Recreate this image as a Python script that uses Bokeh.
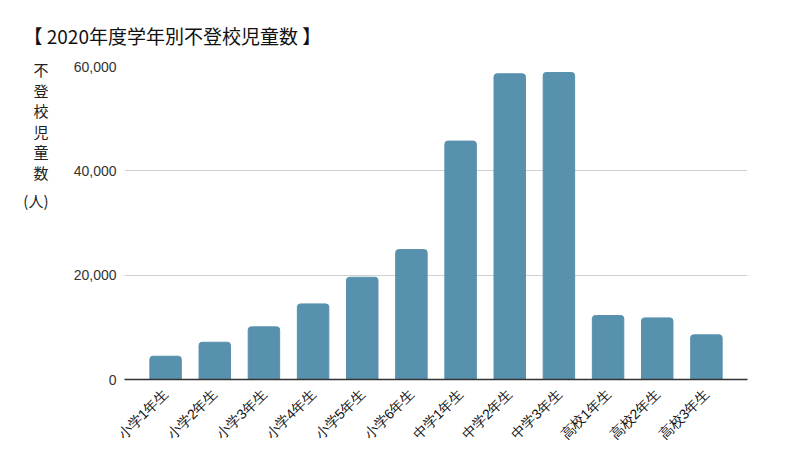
from bokeh.plotting import figure
from bokeh.models import (FactorRange, Range1d, FixedTicker, NumeralTickFormatter, Title,
                          LinearAxis)
from bokeh.embed import file_html
from bokeh.resources import INLINE
import math

categories = ["小学1年生", "小学2年生", "小学3年生", "小学4年生", "小学5年生", "小学6年生",
              "中学1年生", "中学2年生", "中学3年生", "高校1年生", "高校2年生", "高校3年生"]
counts = [4460, 7140, 10090, 14490, 19600, 24900, 45700, 58600, 58850, 12260, 11810, 8560]
y_ticks = [0, 20000, 40000, 60000]
title_text = "【 2020年度学年別不登校児童数 】"
ylabel_chars = ["不", "登", "校", "児", "童", "数", "(人)"]

W, H = 784, 460
BL, BR, BT, BB = 124, 37, 66, 81
YMAX = 60000
PAD = 0.336

p = figure(width=W, height=H, output_backend="svg", toolbar_location=None,
           x_range=FactorRange(factors=categories, range_padding=PAD, range_padding_units="absolute"),
           y_range=Range1d(0, YMAX),
           min_border_left=BL, min_border_right=BR, min_border_top=BT, min_border_bottom=BB)
p.outline_line_color = None

p.add_layout(Title(text=title_text, align="left", offset=-(BL - 23), standoff=35,
                   text_font="Noto Sans CJK JP", text_font_size="19px",
                   text_font_style="normal", text_color="#111111"), "above")

p.vbar(x=categories, top=counts, width=0.64, bottom=0,
       fill_color="#5891ad", line_color="#5891ad", line_width=1,
       border_radius=(3, 3, 0, 0))

p.xgrid.grid_line_color = None
p.ygrid.grid_line_color = "#d0d0d0"
p.ygrid.grid_line_width = 1
p.ygrid.ticker = FixedTicker(ticks=y_ticks)

p.yaxis.ticker = FixedTicker(ticks=y_ticks)
p.yaxis.formatter = NumeralTickFormatter(format="0,0")
p.yaxis.axis_line_color = None
p.yaxis.major_tick_line_color = None
p.yaxis.minor_tick_line_color = None
p.yaxis.major_tick_out = 0
p.yaxis.major_tick_in = 0
p.yaxis.major_label_standoff = 8
p.yaxis.major_label_text_font = "Liberation Sans"
p.yaxis.major_label_text_font_size = "14px"
p.yaxis.major_label_text_color = "#333333"

# stacked vertical axis title: an outer left axis whose tick labels are the characters
frame_h = H - BT - BB
def val_at(px_from_top):
    return int(round((H - BB - px_from_top) / frame_h * YMAX))
char_px = [69 + i * 20.6 for i in range(6)] + [200]
char_vals = [val_at(v) for v in char_px]
ylab_axis = LinearAxis(ticker=FixedTicker(ticks=char_vals),
                       major_label_overrides={v: c for v, c in zip(char_vals, ylabel_chars)})
ylab_axis.axis_line_color = None
ylab_axis.major_tick_line_color = None
ylab_axis.minor_tick_line_color = None
ylab_axis.major_tick_out = 0
ylab_axis.major_tick_in = 0
ylab_axis.major_label_standoff = 22
ylab_axis.major_label_text_align = "center"
ylab_axis.major_label_text_font = "Noto Sans CJK JP"
ylab_axis.major_label_text_font_size = "15px"
ylab_axis.major_label_text_color = "#222222"
p.add_layout(ylab_axis, "left")

p.xaxis.axis_line_color = "#333333"
p.xaxis.axis_line_width = 1.5
p.xaxis.major_tick_line_color = None
p.xaxis.minor_tick_line_color = None
p.xaxis.major_tick_out = 0
p.xaxis.major_tick_in = 0
p.xaxis.major_label_orientation = math.pi / 4
p.xaxis.major_label_standoff = 12
p.xaxis.major_label_text_font = "Liberation Sans"
p.xaxis.major_label_text_font_size = "14px"
p.xaxis.major_label_text_color = "#111111"

open("out.html", "w").write(file_html(p, INLINE))
